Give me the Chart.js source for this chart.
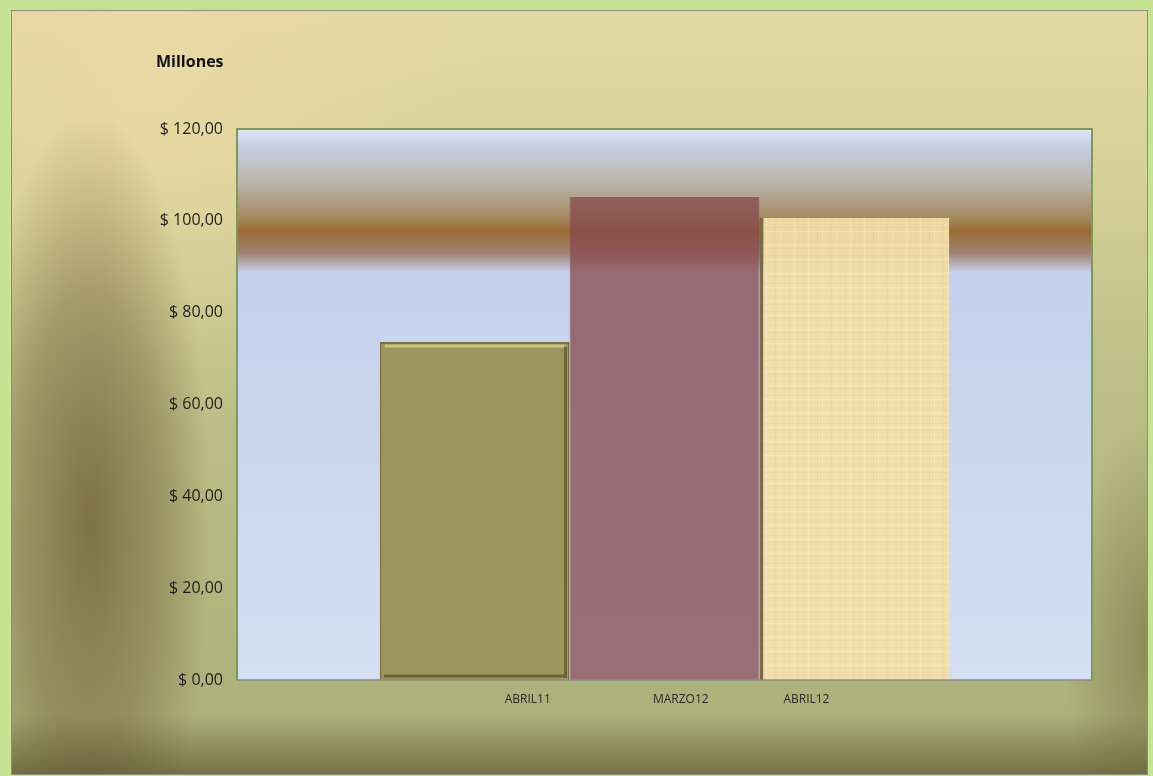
<!DOCTYPE html>
<html>
<head>
<meta charset="utf-8">
<script src="https://cdn.jsdelivr.net/npm/chart.js@4.4.0/dist/chart.umd.min.js"></script>
<style>
  html, body { margin: 0; padding: 0; background: #b5bb84; }
  #wrap { width: 1153px; height: 776px; position: relative; }
</style>
</head>
<body>
<div id="wrap"><canvas id="grafico"></canvas></div>
<script>
// datos del gráfico
const periodos = ["ABRIL11", "MARZO12", "ABRIL12"];
const montos = [73.6, 105.2, 100.6];
const posEtiquetas = [0.34, 0.519, 0.666]; // posición relativa de las etiquetas en el eje
const yMin = 0, yMax = 120, yPaso = 20;
const tituloEje = "Millones";

// textura tipo papel para la barra ABRIL12
function texturaPapel() {
  const c = document.createElement("canvas");
  c.width = 14; c.height = 14;
  const g = c.getContext("2d");
  g.fillStyle = "rgba(243,222,168,0.94)";
  g.fillRect(0, 0, 14, 14);
  g.fillStyle = "rgba(222,195,135,0.22)";
  g.fillRect(0, 3, 14, 1);
  g.fillRect(0, 10, 14, 1);
  g.fillRect(5, 0, 1, 14);
  g.fillStyle = "rgba(255,242,210,0.3)";
  g.fillRect(10, 0, 1, 14);
  g.fillRect(0, 7, 14, 1);
  return g.createPattern(c, "repeat");
}

// fondo del área completa y del área de trazado
const fondoPlugin = {
  id: "fondo",
  beforeDraw(chart) {
    const ctx = chart.ctx;
    const W = chart.width, H = chart.height;
    ctx.save();
    // borde verde exterior
    ctx.fillStyle = "#c9e394";
    ctx.fillRect(0, 0, W, H);
    ctx.beginPath();
    ctx.rect(11, 10, W - 16, H - 12);
    ctx.clip();
    // papel base
    let g = ctx.createLinearGradient(0, 10, 0, H);
    g.addColorStop(0, "#e4d9a4");
    g.addColorStop(0.2, "#d8d29a");
    g.addColorStop(0.45, "#bec189");
    g.addColorStop(1, "#a9af79");
    ctx.fillStyle = g;
    ctx.fillRect(0, 0, W, H);
    // calidez arriba a la izquierda
    g = ctx.createRadialGradient(150, 90, 10, 150, 90, 340);
    g.addColorStop(0, "rgba(238,218,165,0.7)");
    g.addColorStop(1, "rgba(238,218,165,0)");
    ctx.fillStyle = g;
    ctx.fillRect(0, 0, W, H);
    // viñeta oscura izquierda
    ctx.save();
    ctx.translate(90, 520);
    ctx.scale(1, 3.4);
    g = ctx.createRadialGradient(0, 0, 5, 0, 0, 120);
    g.addColorStop(0, "rgba(105,85,50,0.7)");
    g.addColorStop(0.55, "rgba(120,100,60,0.45)");
    g.addColorStop(1, "rgba(120,100,60,0)");
    ctx.fillStyle = g;
    ctx.fillRect(-200, -200, 400, 400);
    ctx.restore();
    // franja oscura inferior
    g = ctx.createLinearGradient(0, 715, 0, H);
    g.addColorStop(0, "rgba(70,60,30,0)");
    g.addColorStop(1, "rgba(70,60,30,0.55)");
    ctx.fillStyle = g;
    ctx.fillRect(0, 715, W, H - 715);
    // esquina inferior derecha algo oscura
    ctx.save();
    ctx.translate(W, 640);
    ctx.scale(1, 2.5);
    g = ctx.createRadialGradient(0, 0, 5, 0, 0, 90);
    g.addColorStop(0, "rgba(90,80,40,0.4)");
    g.addColorStop(1, "rgba(90,80,40,0)");
    ctx.fillStyle = g;
    ctx.fillRect(-200, -200, 400, 400);
    ctx.restore();
    ctx.restore();
    // línea gris del marco
    ctx.save();
    ctx.strokeStyle = "#8d8f78";
    ctx.lineWidth = 1;
    ctx.strokeRect(11.5, 10.5, W - 17, H - 12);

    // área de trazado
    const a = chart.chartArea;
    const h = a.bottom - a.top;
    g = ctx.createLinearGradient(0, a.top, 0, a.bottom);
    g.addColorStop(0, "#e2e7f6");
    g.addColorStop(0.03, "#c9cfe3");
    g.addColorStop(0.1, "#b9b3a8");
    g.addColorStop(0.16, "#a58a62");
    g.addColorStop(0.185, "#9a6c33");
    g.addColorStop(0.225, "#a28272");
    g.addColorStop(0.26, "#c6d1ec");
    g.addColorStop(0.5, "#cad6ee");
    g.addColorStop(1, "#d5dff1");
    ctx.fillStyle = g;
    ctx.fillRect(a.left, a.top, a.right - a.left, h);
    ctx.restore();
  },
  afterDatasetsDraw(chart) {
    // biselado de la barra ABRIL11
    const el = chart.getDatasetMeta(0).data[0];
    if (!el) return;
    const ctx = chart.ctx;
    const l = el.x - el.width / 2, r = el.x + el.width / 2;
    const t = el.y, b = el.base;
    ctx.save();
    ctx.lineWidth = 3;
    ctx.strokeStyle = "rgba(215,205,150,0.8)";
    ctx.beginPath();
    ctx.moveTo(l + 5, t + 4);
    ctx.lineTo(r - 5, t + 4);
    ctx.stroke();
    ctx.strokeStyle = "rgba(95,88,45,0.8)";
    ctx.beginPath();
    ctx.moveTo(r - 4, t + 5);
    ctx.lineTo(r - 4, b - 2);
    ctx.moveTo(l + 4, b - 4);
    ctx.lineTo(r - 4, b - 4);
    ctx.stroke();
    ctx.restore();
  },
  afterDraw(chart) {
    const ctx = chart.ctx;
    const a = chart.chartArea;
    ctx.save();
    ctx.strokeStyle = "#7c9a52";
    ctx.lineWidth = 2;
    ctx.beginPath();
    ctx.moveTo(a.left, a.bottom);
    ctx.lineTo(a.left, a.top);
    ctx.lineTo(a.right, a.top);
    ctx.lineTo(a.right, a.bottom);
    ctx.stroke();
    ctx.strokeStyle = "#8a8d86";
    ctx.lineWidth = 1.5;
    ctx.beginPath();
    ctx.moveTo(a.left, a.bottom);
    ctx.lineTo(a.right, a.bottom);
    ctx.stroke();
    // título del eje Y
    const y = chart.scales.y;
    ctx.fillStyle = "#111";
    ctx.font = "bold 16px 'Open Sans', sans-serif";
    ctx.textAlign = "left";
    ctx.textBaseline = "middle";
    ctx.fillText(tituloEje, y.left + 156, 62);
    ctx.restore();
  }
};

const ctx = document.getElementById("grafico").getContext("2d");
const papel = texturaPapel();

new Chart(ctx, {
  type: "bar",
  data: {
    labels: [""],
    datasets: [
      {
        label: periodos[0],
        data: [montos[0]],
        backgroundColor: "#9e965e",
        borderColor: "#7a7242",
        borderWidth: 2,
      },
      {
        label: periodos[1],
        data: [montos[1]],
        backgroundColor: "rgba(134,72,76,0.75)",
        borderColor: "rgba(110,60,60,0.6)",
        borderWidth: 1,
      },
      {
        label: periodos[2],
        data: [montos[2]],
        backgroundColor: papel,
        borderColor: "#7a6a45",
        borderWidth: { left: 4, top: 0, right: 0, bottom: 0 },
      },
    ],
  },
  options: {
    responsive: true,
    maintainAspectRatio: false,
    animation: false,
    layout: { padding: { top: 129, right: 61, bottom: 0, left: 0 } },
    plugins: {
      legend: { display: false },
      tooltip: { enabled: false },
    },
    datasets: {
      bar: { categoryPercentage: 0.666, barPercentage: 1.0 },
    },
    scales: {
      x: { display: false },
      x2: {
        type: "linear",
        position: "bottom",
        offset: false,
        min: 0,
        max: 1,
        grid: { display: false, drawTicks: false },
        border: { display: false },
        afterBuildTicks: (scale) => {
          scale.ticks = posEtiquetas.map((v) => ({ value: v }));
        },
        afterFit: (scale) => { scale.height = 96; },
        ticks: {
          padding: 12,
          color: "#2a2a2a",
          font: { family: "'Open Sans', sans-serif", size: 12 },
          callback: (value, index) => periodos[index],
        },
      },
      y: {
        min: yMin,
        max: yMax,
        grid: { display: false, drawTicks: false },
        border: { display: false },
        afterFit: (scale) => { scale.width = 237; },
        ticks: {
          stepSize: yPaso,
          padding: 14,
          color: "#1e1e1e",
          font: { family: "'Open Sans', sans-serif", size: 16 },
          callback: (v) => "$ " + v.toFixed(2).replace(".", ","),
        },
      },
    },
  },
  plugins: [fondoPlugin],
});
</script>
</body>
</html>
